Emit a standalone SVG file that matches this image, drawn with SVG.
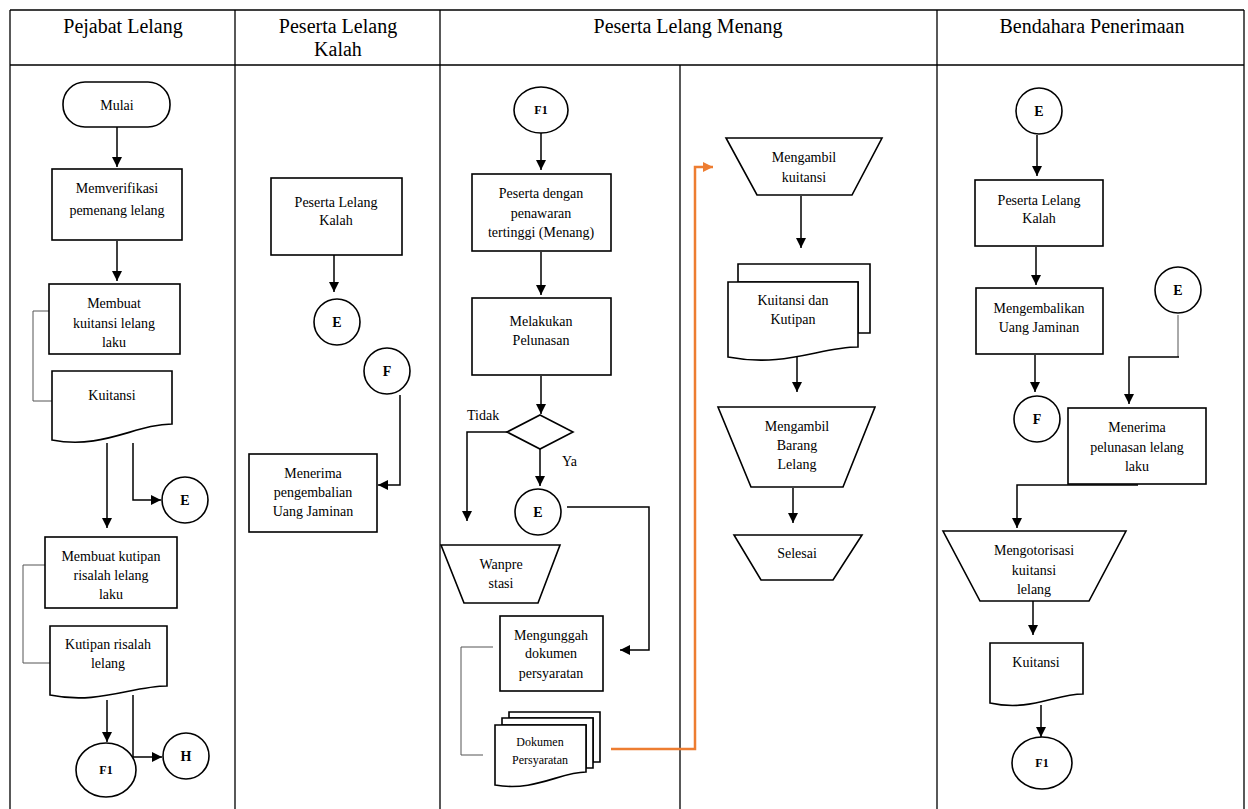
<svg xmlns="http://www.w3.org/2000/svg" width="1248" height="809" viewBox="0 0 1248 809">
<style>
.bg{fill:#fff}
.grid{fill:none;stroke:#000;stroke-width:1.3}
.box{fill:#fff;stroke:#000;stroke-width:1.6}
.ln{fill:none;stroke:#000;stroke-width:1.5}
.br{fill:none;stroke:#555;stroke-width:1}
.or{fill:none;stroke:#ED7D31;stroke-width:2.5}
.h{font-family:"Liberation Serif","Times New Roman",serif;font-size:20px;fill:#000;text-anchor:middle}
.t{font-family:"Liberation Serif","Times New Roman",serif;font-size:14px;fill:#000;text-anchor:middle}
.s{font-family:"Liberation Serif","Times New Roman",serif;font-size:12px;fill:#000;text-anchor:middle}
.b{font-family:"Liberation Serif","Times New Roman",serif;font-size:14px;font-weight:bold;fill:#000;text-anchor:middle}
.b1{font-family:"Liberation Serif","Times New Roman",serif;font-size:12px;font-weight:bold;fill:#000;text-anchor:middle}
</style>
<defs>
<marker id="ah" viewBox="0 0 10 10" refX="10" refY="5" markerWidth="10" markerHeight="10" markerUnits="userSpaceOnUse" orient="auto"><path d="M0,0 L10,5 L0,10 z" fill="#000"/></marker>
<marker id="aho" viewBox="0 0 10 10" refX="10" refY="5" markerWidth="10" markerHeight="10" markerUnits="userSpaceOnUse" orient="auto"><path d="M0,0 L10,5 L0,10 z" fill="#ED7D31"/></marker>
</defs>
<rect class="bg" x="0" y="0" width="1248" height="809"/>
<g id="table">
<path class="grid" d="M10,10 H1244 M10,65 H1244 M10,10 V809 M1244,10 V809 M235,10 V809 M440,10 V809 M937,10 V809 M680,65 V809"/>
<text class="h" x="123" y="33">Pejabat Lelang</text>
<text class="h" x="338" y="33">Peserta Lelang</text>
<text class="h" x="338" y="56">Kalah</text>
<text class="h" x="688" y="33">Peserta Lelang Menang</text>
<text class="h" x="1092" y="33">Bendahara Penerimaan</text>
</g>
<g id="connectors">
<path class="ln" d="M117,127 V167" marker-end="url(#ah)"/>
<path class="ln" d="M117,241 V281" marker-end="url(#ah)"/>
<path class="br" d="M49,311 H33 V401 H52"/>
<path class="ln" d="M107,443 V528" marker-end="url(#ah)"/>
<path class="ln" d="M133,443 V500 H161" marker-end="url(#ah)"/>
<path class="br" d="M45,565 H23 V663 H50"/>
<path class="ln" d="M107,700 V742" marker-end="url(#ah)"/>
<path class="ln" d="M133,695 V757 H162" marker-end="url(#ah)"/>
<path class="ln" d="M334,255 V292" marker-end="url(#ah)"/>
<path class="ln" d="M400,395 V485 H378" marker-end="url(#ah)"/>
<path class="ln" d="M541,133 V170" marker-end="url(#ah)"/>
<path class="ln" d="M541,252 V295" marker-end="url(#ah)"/>
<path class="ln" d="M541,376 V414" marker-end="url(#ah)"/>
<path class="ln" d="M507,432 H467 V521" marker-end="url(#ah)"/>
<path class="ln" d="M540,448 V486" marker-end="url(#ah)"/>
<path class="ln" d="M567,507 H649 V650 H620" marker-end="url(#ah)"/>
<path class="br" d="M493,647 H461 V755 H483"/>
<path class="or" d="M611,749 H695 V167 H713" marker-end="url(#aho)"/>
<path class="ln" d="M801,196 V248" marker-end="url(#ah)"/>
<path class="ln" d="M797,357 V392" marker-end="url(#ah)"/>
<path class="ln" d="M793,488 V523" marker-end="url(#ah)"/>
<path class="ln" d="M1037,135 V176" marker-end="url(#ah)"/>
<path class="ln" d="M1036,247 V285" marker-end="url(#ah)"/>
<path class="ln" d="M1035,355 V392" marker-end="url(#ah)"/>
<path class="br" d="M1178,315 V357"/>
<path class="ln" d="M1179,357 H1129 V404" marker-end="url(#ah)"/>
<path class="ln" d="M1138,485 H1017 V528" marker-end="url(#ah)"/>
<path class="ln" d="M1033,601 V635" marker-end="url(#ah)"/>
<path class="ln" d="M1041,705 V737" marker-end="url(#ah)"/>
</g>
<g id="mulai"><rect class="box" x="63" y="82" width="107" height="45" rx="22" ry="22"/><text class="t" x="117" y="110">Mulai</text></g>
<g id="verifikasi"><rect class="box" x="52" y="169" width="130" height="71"/><text class="t" x="117" y="193">Memverifikasi</text><text class="t" x="117" y="215">pemenang  lelang</text></g>
<g id="buat-kuitansi"><rect class="box" x="49" y="284" width="131" height="70"/><text class="t" x="114" y="308">Membuat</text><text class="t" x="114" y="328">kuitansi lelang</text><text class="t" x="114" y="347">laku</text></g>
<g id="doc-kuitansi"><path class="box" d="M52,371 H172 V424 C136,424 102,450 52,440 Z"/><text class="t" x="112" y="400">Kuitansi</text></g>
<g id="e1"><circle class="box" cx="185" cy="500" r="23"/><text class="b" x="185" y="505">E</text></g>
<g id="buat-kutipan"><rect class="box" x="45" y="537" width="132" height="71"/><text class="t" x="111" y="561">Membuat kutipan</text><text class="t" x="111" y="580">risalah lelang</text><text class="t" x="111" y="599">laku</text></g>
<g id="doc-kutipan"><path class="box" d="M50,626 H167 V686 C132,686 98,705 50,695 Z"/><text class="t" x="108" y="649">Kutipan risalah</text><text class="t" x="108" y="668">lelang</text></g>
<g id="f1a"><ellipse class="box" cx="106" cy="770" rx="30" ry="27"/><text class="b1" x="106" y="774">F1</text></g>
<g id="h1"><circle class="box" cx="186" cy="756" r="23"/><text class="b" x="186" y="761">H</text></g>
<g id="kalah"><rect class="box" x="271" y="178" width="131" height="77"/><text class="t" x="336" y="207">Peserta Lelang</text><text class="t" x="336" y="225">Kalah</text></g>
<g id="e2"><circle class="box" cx="337" cy="322" r="23"/><text class="b" x="337" y="327">E</text></g>
<g id="f2"><circle class="box" cx="387" cy="371" r="23"/><text class="b" x="387" y="376">F</text></g>
<g id="terima-jaminan"><rect class="box" x="249" y="454" width="128" height="78"/><text class="t" x="313" y="478">Menerima</text><text class="t" x="313" y="497">pengembalian</text><text class="t" x="313" y="516">Uang  Jaminan</text></g>
<g id="f1b"><ellipse class="box" cx="541" cy="110" rx="27" ry="23"/><text class="b1" x="541" y="114">F1</text></g>
<g id="menang"><rect class="box" x="472" y="174" width="139" height="77"/><text class="t" x="541" y="198">Peserta dengan</text><text class="t" x="541" y="218">penawaran</text><text class="t" x="541" y="237">tertinggi (Menang)</text></g>
<g id="pelunasan"><rect class="box" x="472" y="298" width="139" height="77"/><text class="t" x="541" y="326">Melakukan</text><text class="t" x="541" y="345">Pelunasan</text></g>
<g id="decision"><path class="box" d="M540,415 L573,432 L540,449 L507,432 Z"/><text class="t" x="467" y="420" style="text-anchor:start">Tidak</text><text class="t" x="562" y="466" style="text-anchor:start">Ya</text></g>
<g id="e3"><circle class="box" cx="538" cy="512" r="23"/><text class="b" x="538" y="517">E</text></g>
<g id="wanprestasi"><path class="box" d="M441,545 H560 L538,603 H464 Z"/><text class="t" x="501" y="569">Wanpre</text><text class="t" x="501" y="588">stasi</text></g>
<g id="unggah"><rect class="box" x="500" y="616" width="103" height="75"/><text class="t" x="551" y="640">Mengunggah</text><text class="t" x="551" y="658">dokumen</text><text class="t" x="551" y="678">persyaratan</text></g>
<g id="dok-persyaratan"><path class="box" d="M509,712 H600 V762 H593 V718 H509 Z"/><path class="box" d="M502,718 H593 V768 H586 V725 H502 Z"/><path class="box" d="M495,725 H586 V772 C560,772 535,792 495,785 Z"/><text class="s" x="540" y="746">Dokumen</text><text class="s" x="540" y="764">Persyaratan</text></g>
<g id="ambil-kuitansi"><path class="box" d="M726,138 H882 L852,195 H757 Z"/><text class="t" x="804" y="162">Mengambil</text><text class="t" x="804" y="182">kuitansi</text></g>
<g id="kuitansi-kutipan"><path class="box" d="M738,264 H870 V333 H858 V282 H738 Z"/><path class="box" d="M728,282 H858 V347 C820,347 785,368 728,357 Z"/><text class="t" x="793" y="305">Kuitansi dan</text><text class="t" x="793" y="324">Kutipan</text></g>
<g id="ambil-barang"><path class="box" d="M718,407 H875 L843,487 H751 Z"/><text class="t" x="797" y="431">Mengambil</text><text class="t" x="797" y="450">Barang</text><text class="t" x="797" y="469">Lelang</text></g>
<g id="selesai"><path class="box" d="M734,535 H862 L833,580 H761 Z"/><text class="t" x="797" y="558">Selesai</text></g>
<g id="e4"><circle class="box" cx="1039" cy="111" r="23"/><text class="b" x="1039" y="116">E</text></g>
<g id="kalah2"><rect class="box" x="975" y="180" width="128" height="66"/><text class="t" x="1039" y="205">Peserta Lelang</text><text class="t" x="1039" y="223">Kalah</text></g>
<g id="kembalikan"><rect class="box" x="976" y="288" width="127" height="66"/><text class="t" x="1039" y="313">Mengembalikan</text><text class="t" x="1039" y="332">Uang  Jaminan</text></g>
<g id="f3"><circle class="box" cx="1037" cy="419" r="23"/><text class="b" x="1037" y="424">F</text></g>
<g id="e5"><circle class="box" cx="1178" cy="290" r="23"/><text class="b" x="1178" y="295">E</text></g>
<g id="terima-pelunasan"><rect class="box" x="1068" y="408" width="138" height="76"/><text class="t" x="1137" y="432">Menerima</text><text class="t" x="1137" y="452">pelunasan lelang</text><text class="t" x="1137" y="471">laku</text></g>
<g id="otorisasi"><path class="box" d="M943,531 H1126 L1089,601 H980 Z"/><text class="t" x="1034" y="555">Mengotorisasi</text><text class="t" x="1034" y="575">kuitansi</text><text class="t" x="1034" y="594">lelang</text></g>
<g id="doc-kuitansi2"><path class="box" d="M990,643 H1083 V694 C1055,694 1030,712 990,703 Z"/><text class="t" x="1036" y="667">Kuitansi</text></g>
<g id="f1c"><ellipse class="box" cx="1042" cy="763" rx="30" ry="26"/><text class="b1" x="1042" y="767">F1</text></g>
</svg>
